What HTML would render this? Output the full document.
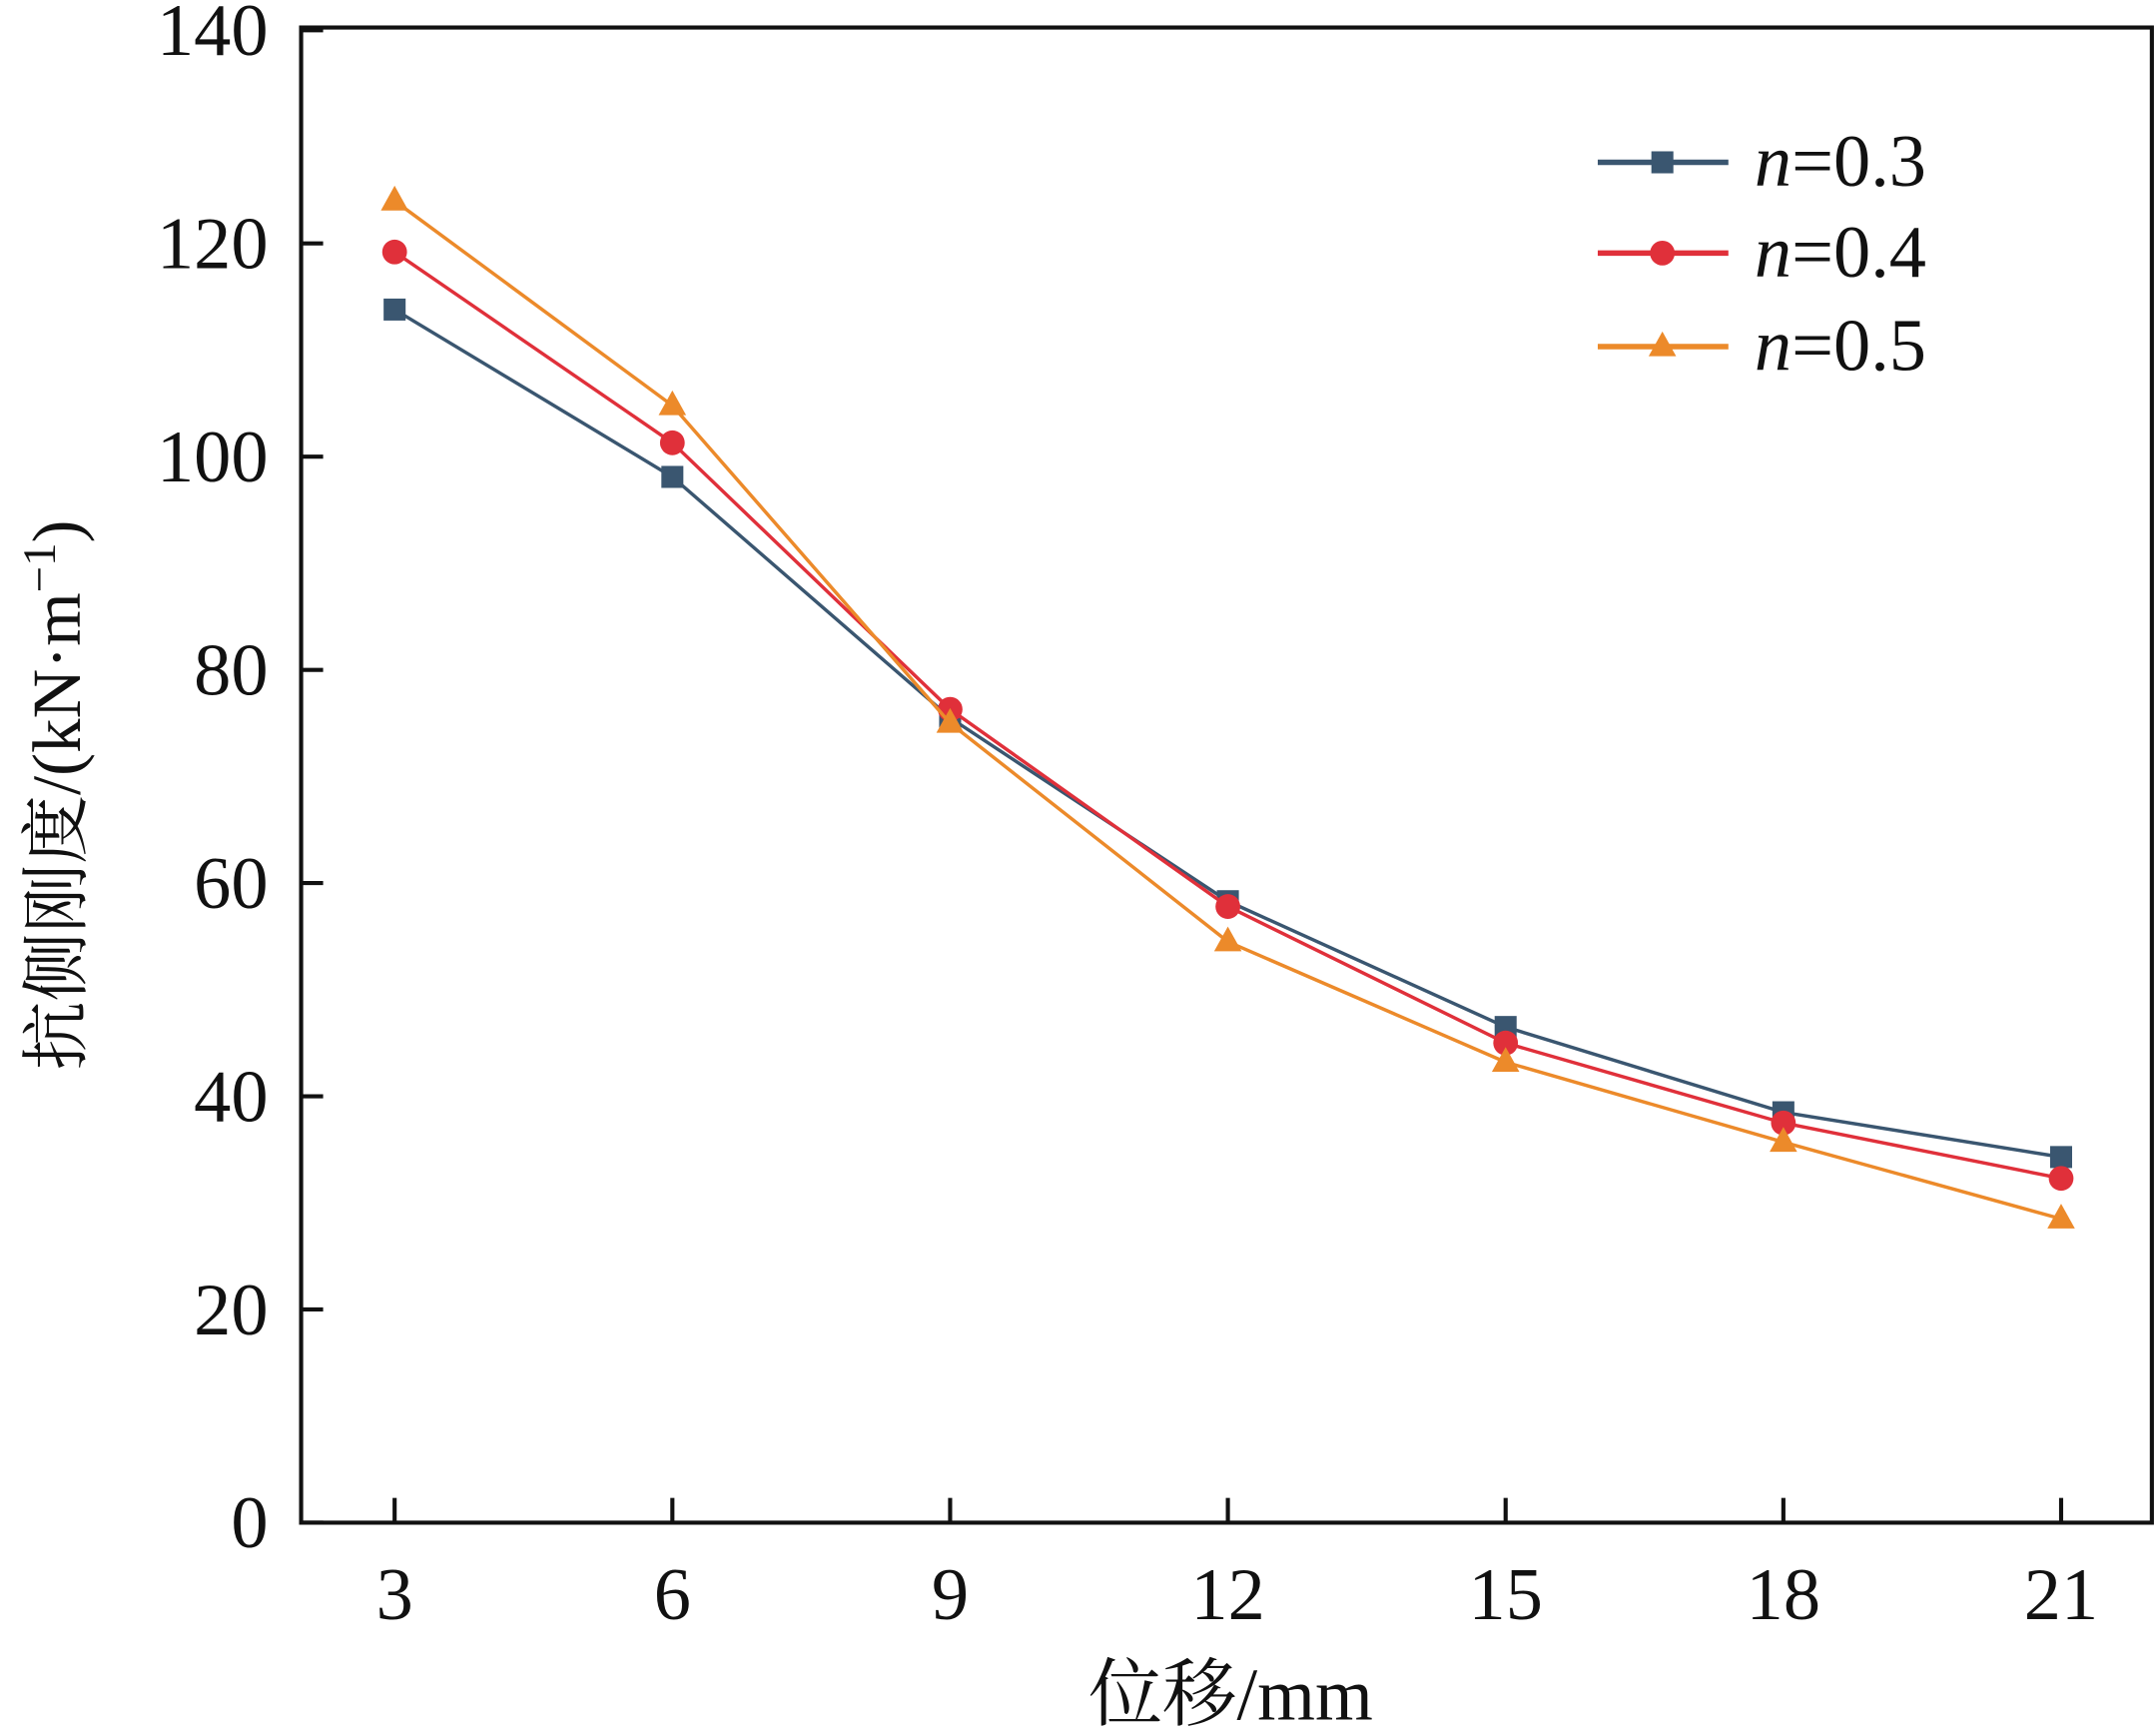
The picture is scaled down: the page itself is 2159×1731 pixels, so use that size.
<!DOCTYPE html>
<html><head><meta charset="utf-8"><style>
html,body{margin:0;padding:0;background:#fff;}
svg{display:block;}
text{font-family:"Liberation Serif","Times New Roman","Noto Serif CJK SC",serif;fill:#111;}
</style></head><body>
<svg id="chart" width="2159" height="1731" viewBox="0 0 1568 1257" preserveAspectRatio="none" xmlns="http://www.w3.org/2000/svg">
<g id="axes"></g>
<g id="series"></g>
<g id="legend"></g>
</svg>
<script>
const categories = [3, 6, 9, 12, 15, 18, 21];
const seriesNames = ["n=0.3", "n=0.4", "n=0.5"];
const valuesN03 = [113.8, 98.1, 75.5, 58.3, 46.5, 38.5, 34.3];
const valuesN04 = [119.2, 101.3, 76.3, 57.8, 45.0, 37.5, 32.3];
const valuesN05 = [124.0, 104.8, 75.0, 54.5, 43.2, 35.7, 28.5];
const yTicks = [0, 20, 40, 60, 80, 100, 120, 140];

const NS = "http://www.w3.org/2000/svg";
const L = 219, R = 1565, T = 20, B = 1107;
function xs(v){ return 287 + (v - 3) * (1499 - 287) / 18; }
function ys(v){ return B - v * (B - 22) / 140; }
function mk(tag, attrs, parent){ const e = document.createElementNS(NS, tag); for (const k in attrs) e.setAttribute(k, attrs[k]); parent.appendChild(e); return e; }

const axes = document.getElementById('axes');
const frame = mk('rect', {x:L, y:T, width:R-L, height:B-T, fill:'none', stroke:'#111', 'stroke-width':3}, axes);


categories.forEach(c => {
  const t = mk('line', {x1:xs(c), x2:xs(c), y1:B, y2:B-18, stroke:'#111', 'stroke-width':3}, axes);
  
  
  const lb = mk('text', {x:xs(c), y:1177, 'text-anchor':'middle', 'font-size':54}, axes);
  lb.textContent = c;
  
  
});
yTicks.forEach(v => {
  const t = mk('line', {x1:L, x2:L+16, y1:ys(v), y2:ys(v), stroke:'#111', 'stroke-width':3}, axes);
  
  
  const lb = mk('text', {x:195, y:ys(v)+18, 'text-anchor':'end', 'font-size':54}, axes);
  lb.textContent = v;
  
  
});
const xt = mk('text', {x:895, y:1250, 'text-anchor':'middle', 'font-size':54}, axes);
xt.textContent = '位移/mm';


const yt = mk('text', {x:0, y:0, 'text-anchor':'middle', 'font-size':50, transform:'translate(58,578) rotate(-90)'}, axes);
yt.innerHTML = '抗侧刚度/(kN·m<tspan dy="-18" font-size="34">−1</tspan><tspan dy="18">)</tspan>';



const colors = ['#3a5670', '#e0303a', '#ec8a2a'];
const data = [valuesN03, valuesN04, valuesN05];
const shapes = ['square', 'circle', 'triangle'];
function marker(shape, x, y, color, parent){
  let m;
  if (shape === 'square') m = mk('rect', {x:x-8, y:y-8, width:16, height:16, fill:color}, parent);
  else if (shape === 'circle') m = mk('circle', {cx:x, cy:y, r:9, fill:color}, parent);
  else m = mk('polygon', {points:`${x},${y-11} ${x+10},${y+7} ${x-10},${y+7}`, fill:color}, parent);
  return m;
}
const sg = document.getElementById('series');
data.forEach((vals, i) => {
  const g = mk('g', {}, sg);
  
  
  const pl = mk('polyline', {points:vals.map((v, j) => xs(categories[j]) + ',' + ys(v)).join(' '), fill:'none', stroke:colors[i], 'stroke-width':2.5}, g);
  
  
  vals.forEach((v, j) => {
    const m = marker(shapes[i], xs(categories[j]), ys(v), colors[i], g);
    
    
  });
});

const lg = document.getElementById('legend');


[118, 184, 252].forEach((y, i) => {
  const g = mk('g', {}, lg);
  
  
  mk('line', {x1:1162, x2:1257, y1:y, y2:y, stroke:colors[i], 'stroke-width':4}, g);
  marker(shapes[i], 1209, y, colors[i], g);
  const t = mk('text', {x:1276, y:y+17, 'font-size':54}, g);
  t.innerHTML = '<tspan font-style="italic">n</tspan>=' + seriesNames[i].split('=')[1];
});
</script>
</body></html>
